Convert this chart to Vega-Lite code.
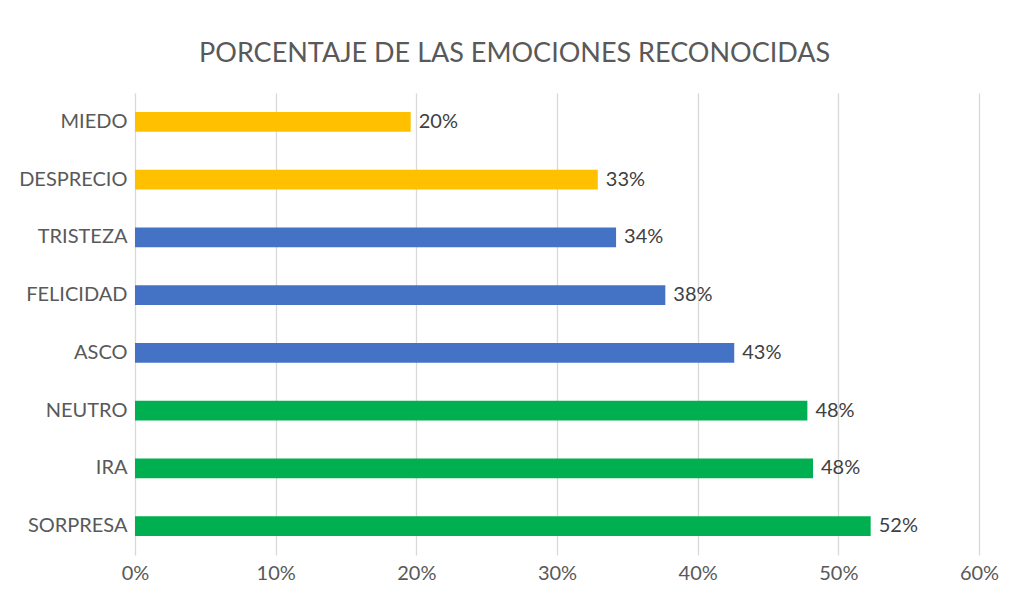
{
  "$schema": "https://vega.github.io/schema/vega-lite/v6.json",
  "autosize": {"type": "none"},
  "width": 844,
  "height": 462,
  "padding": {"left": 135, "top": 93, "right": 37, "bottom": 37},
  "background": "white",
  "title": {
    "text": "PORCENTAJE DE LAS EMOCIONES RECONOCIDAS",
    "font": "Lato",
    "fontSize": 27,
    "fontWeight": "normal",
    "color": "#595959",
    "anchor": "middle",
    "frame": "bounds",
    "offset": 25,
    "dx": 6
  },
  "data": {
    "values": [
      {"emocion": "MIEDO", "valor": 0.196, "grupo": "bajo"},
      {"emocion": "DESPRECIO", "valor": 0.329, "grupo": "bajo"},
      {"emocion": "TRISTEZA", "valor": 0.342, "grupo": "medio"},
      {"emocion": "FELICIDAD", "valor": 0.377, "grupo": "medio"},
      {"emocion": "ASCO", "valor": 0.426, "grupo": "medio"},
      {"emocion": "NEUTRO", "valor": 0.478, "grupo": "alto"},
      {"emocion": "IRA", "valor": 0.482, "grupo": "alto"},
      {"emocion": "SORPRESA", "valor": 0.523, "grupo": "alto"}
    ]
  },
  "encoding": {
    "y": {
      "field": "emocion",
      "type": "nominal",
      "sort": ["MIEDO", "DESPRECIO", "TRISTEZA", "FELICIDAD", "ASCO", "NEUTRO", "IRA", "SORPRESA"],
      "scale": {"paddingInner": 0.654, "paddingOuter": 0.327},
      "axis": {
        "title": null,
        "ticks": false,
        "domain": false,
        "labelFont": "Lato",
        "labelFontSize": 20,
        "labelColor": "#595959",
        "labelPadding": 8
      }
    },
    "x": {
      "field": "valor",
      "type": "quantitative",
      "scale": {"domain": [0, 0.6]},
      "axis": {
        "title": null,
        "format": ".0%",
        "values": [0, 0.1, 0.2, 0.3, 0.4, 0.5, 0.6],
        "ticks": false,
        "domain": false,
        "grid": true,
        "gridColor": "#d9d9d9",
        "gridWidth": 1.3,
        "labelFont": "Lato",
        "labelFontSize": 20,
        "labelColor": "#595959",
        "labelPadding": 8,
        "labelFlush": false
      }
    }
  },
  "layer": [
    {
      "mark": {"type": "bar"},
      "encoding": {
        "color": {
          "field": "grupo",
          "type": "nominal",
          "scale": {"domain": ["bajo", "medio", "alto"], "range": ["#FFC000", "#4472C4", "#00B050"]},
          "legend": null
        }
      }
    },
    {
      "mark": {"type": "text", "align": "left", "baseline": "middle", "dx": 8, "font": "Lato", "fontSize": 20, "color": "#404040"},
      "encoding": {
        "text": {"field": "valor", "type": "quantitative", "format": ".0%"}
      }
    }
  ],
  "config": {
    "view": {"stroke": null}
  }
}
